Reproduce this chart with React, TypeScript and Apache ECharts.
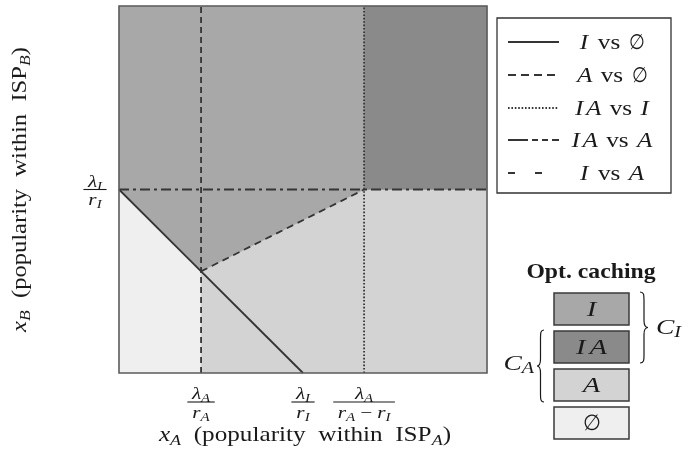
import React, { useEffect, useRef } from 'react';
import * as echarts from 'echarts';

// ---------------- data ----------------
// breakpoints on the x axis (fractions of full popularity range)
const xBreakNames = ['λA/rA', 'λI/rI', 'λA/(rA−rI)'];
const xBreaks = [0.223, 0.5, 0.666];
// breakpoints on the y axis
const yBreakNames = ['λI/rI'];
const yBreaks = [0.5];

// optimal caching regions
const regionNames = ['∅', 'A', 'I', 'IA'];
const regionPolygons: number[][][] = [
  [[0, 0], [0.223, 0], [0.223, 0.277], [0, 0.5]],
  [[0.223, 0], [1, 0], [1, 0.5], [0.666, 0.5], [0.223, 0.277]],
  [[0, 0.5], [0.223, 0.277], [0.666, 0.5], [0.666, 1], [0, 1]],
  [[0.666, 0.5], [1, 0.5], [1, 1], [0.666, 1]],
];

// boundaries between regions
const boundaryNames = ['I vs ∅', 'A vs ∅', 'IA vs I', 'IA vs A', 'I vs A'];
const boundaryLines: number[][][] = [
  [[0, 0.5], [0.5, 0]],
  [[0.223, 0], [0.223, 1]],
  [[0.666, 0], [0.666, 1]],
  [[0, 0.5], [1, 0.5]],
  [[0.223, 0.277], [0.666, 0.5]],
];

// ---------------- styles ----------------
const regionColors = ['#efefef', '#d3d3d3', '#a8a8a8', '#8a8a8a'];
const boundaryDash: any[] = ['solid', [6, 4], [1.6, 1.8], [10, 4, 3, 4], [7, 5]];
const legendDash: any[] = [null, [8, 5], [1.6, 1.8], [20, 4, 6, 4, 6, 4], [7, 20]];
const FONT = 'Liberation Serif';
const INK = '#1a1a1a';
const LINE = '#353535';

type Part = { t?: string; it?: boolean; sub?: boolean; b?: boolean; gap?: number; sx?: number };
const it = (t: string): Part => ({ t, it: true });
const rm = (t: string): Part => ({ t });
const sb = (t: string): Part => ({ t, it: true, sub: true });
const gp = (g: number): Part => ({ gap: g });
const es = (): Part => ({ t: '∅', sx: 0.72 });

const legendLabels: Part[][] = [
  [it('I'), gp(8), rm('vs'), gp(7), es()],
  [it('A'), gp(7), rm('vs'), gp(7), es()],
  [it('I'), gp(2), it('A'), gp(7), rm('vs'), gp(7), it('I')],
  [it('I'), gp(2), it('A'), gp(7), rm('vs'), gp(7), it('A')],
  [it('I'), gp(8), rm('vs'), gp(7), it('A')],
];
const boxOrder = [2, 3, 1, 0]; // I, IA, A, ∅ (indices into regionNames)
const boxLabels: Part[][] = [[it('I')], [it('I'), gp(3), it('A')], [it('A')], [es()]];
const xTickNum: Part[][] = [[it('λ'), sb('A')], [it('λ'), sb('I')], [it('λ'), sb('A')]];
const xTickDen: Part[][] = [
  [it('r'), sb('A')],
  [it('r'), sb('I')],
  [it('r'), sb('A'), gp(4), rm('−'), gp(4), it('r'), sb('I')],
];
const yTickNum: Part[][] = [[it('λ'), sb('I')]];
const yTickDen: Part[][] = [[it('r'), sb('I')]];
const xTitle: Part[] = [it('x'), sb('A'), rm('  (popularity  within  ISP'), sb('A'), rm(')')];
const yTitle: Part[] = [it('x'), sb('B'), rm('  (popularity  within  ISP'), sb('B'), rm(')')];

// ---------------- brace shapes ----------------
function bracePath(w: number, h: number, left: boolean) {
  const X = (x: number) => (left ? w - x : x);
  const m = w * 0.5;
  return `M${X(0)} 0 C${X(m)} 0 ${X(m)} 3 ${X(m)} 8 L${X(m)} ${h / 2 - 7} C${X(m)} ${h / 2 - 2} ${X(w * 0.7)} ${h / 2} ${X(w)} ${h / 2} C${X(w * 0.7)} ${h / 2} ${X(m)} ${h / 2 + 2} ${X(m)} ${h / 2 + 7} L${X(m)} ${h - 8} C${X(m)} ${h - 3} ${X(m)} ${h} ${X(0)} ${h}`;
}
echarts.graphic.registerShape('braceRight', (echarts.graphic as any).extendPath(bracePath(8, 71, false), {}));
echarts.graphic.registerShape('braceLeft', (echarts.graphic as any).extendPath(bracePath(7, 72, true), {}));

// ---------------- text helpers ----------------
let mctx: CanvasRenderingContext2D | null = null;
function measure(t: string, size: number, italic?: boolean, bold?: boolean) {
  if (!mctx) mctx = document.createElement('canvas').getContext('2d');
  mctx!.font = `${italic ? 'italic ' : ''}${bold ? 'bold ' : ''}${size}px "${FONT}"`;
  return mctx!.measureText(t).width;
}
function layout(parts: Part[], size: number, bold = false) {
  const subSize = Math.round(size * 0.72);
  let cx = 0;
  const children: any[] = [];
  for (const p of parts) {
    if (p.gap) { cx += p.gap; continue; }
    const s = p.sub ? subSize : size;
    const psx = p.sx || 1;
    const w = measure(p.t!, s, p.it, bold || p.b) * psx;
    children.push({
      type: 'text', x: cx, y: p.sub ? size * 0.27 : 0, scaleX: psx, silent: true,
      style: {
        text: p.t, fontSize: s, fontFamily: FONT, fontStyle: p.it ? 'italic' : 'normal',
        fontWeight: bold || p.b ? 'bold' : 'normal', fill: INK,
        align: 'left', verticalAlign: 'middle', textAlign: 'left', textVerticalAlign: 'middle',
      },
    });
    cx += w;
  }
  return { children, width: cx };
}
function textGroup(parts: Part[], x: number, y: number, size: number, sx: number, opts: any = {}) {
  const { children, width } = layout(parts, size, !!opts.bold);
  const off = opts.align === 'left' ? 0 : opts.align === 'right' ? -width : -width / 2;
  children.forEach((c) => (c.x += off));
  return { type: 'group', x, y, scaleX: sx, rotation: opts.rotation || 0, children, silent: true };
}
function fraction(num: Part[], den: Part[], cx: number, barY: number, size: number, sx: number) {
  const n = layout(num, size);
  const d = layout(den, size);
  const w = Math.max(n.width, d.width) * sx + 9;
  return {
    type: 'group', silent: true,
    children: [
      textGroup(num, cx, barY - size * 0.5, size, sx),
      { type: 'line', shape: { x1: cx - w / 2, y1: barY, x2: cx + w / 2, y2: barY }, style: { stroke: INK, lineWidth: 1.1 } },
      textGroup(den, cx, barY + size * 0.6, size, sx),
    ],
  };
}

export default function App() {
  const ref = useRef<HTMLDivElement>(null);
  useEffect(() => {
    const chart = echarts.init(ref.current!, null, { renderer: 'svg' });
    const series: any[] = [];
    series.push({
      type: 'custom', name: 'regions', coordinateSystem: 'cartesian2d', silent: true, clip: false, z: 1,
      data: regionNames.map((n, i) => {
        const poly = regionPolygons[i];
        const c = poly.reduce((a, p) => [a[0] + p[0] / poly.length, a[1] + p[1] / poly.length], [0, 0]);
        return { name: n, value: c };
      }),
      renderItem: (params: any, api: any) => {
        const i = params.dataIndex;
        return {
          type: 'polygon',
          shape: { points: regionPolygons[i].map((p) => api.coord(p)) },
          style: { fill: regionColors[i], stroke: regionColors[i], lineWidth: 0.5 },
        };
      },
    });
    const order = [4, 1, 2, 3, 0];
    order.forEach((i, k) => {
      series.push({
        type: 'line', name: boundaryNames[i], data: boundaryLines[i], symbol: 'none', silent: true,
        z: 3 + k, lineStyle: { color: LINE, width: 1.8, type: boundaryDash[i] },
      });
    });
    series.push({
      type: 'custom', name: 'frame', coordinateSystem: 'cartesian2d', silent: true, clip: false, z: 20,
      data: [{ value: [0.5, 0.5] }],
      renderItem: (params: any, api: any) => {
        const a = api.coord([0, 1]);
        const b = api.coord([1, 0]);
        return {
          type: 'rect', shape: { x: a[0], y: a[1], width: b[0] - a[0], height: b[1] - a[1] },
          style: { fill: 'none', stroke: '#5c5c5c', lineWidth: 1.6 },
        };
      },
    });

    const axisCommon = {
      type: 'value', min: 0, max: 1,
      axisLine: { show: false }, axisTick: { show: false }, axisLabel: { show: false }, splitLine: { show: false },
    };
    chart.setOption({
      animation: false,
      grid: { left: 119, top: 6, width: 368, height: 367 },
      xAxis: axisCommon,
      yAxis: axisCommon,
      series,
    });

    const px = (v: number[]) => chart.convertToPixel({ gridIndex: 0 }, v) as number[];
    const [x0, y0] = px([0, 0]);
    const [x1, y1] = px([1, 1]);
    const els: any[] = [];
    // x tick fractions
    xBreaks.forEach((v, i) => {
      const cx = px([v, 0])[0];
      els.push(fraction(xTickNum[i], xTickDen[i], cx, y0 + 29, 17, 1.25));
    });
    yBreaks.forEach((v, i) => {
      const cy = px([0, v])[1];
      els.push(fraction(yTickNum[i], yTickDen[i], x0 - 24, cy, 17, 1.25));
    });
    // axis titles
    els.push(textGroup(xTitle, (x0 + x1) / 2 + 2, y0 + 61, 21, 1.2));
    els.push(textGroup(yTitle, 19, (y0 + y1) / 2, 21, 1.17, { rotation: Math.PI / 2 }));

    // boundary legend
    els.push({ type: 'rect', shape: { x: 497, y: 18, width: 174, height: 175 }, style: { fill: '#fff', stroke: '#333', lineWidth: 1.3 } });
    const rowY = [42, 75, 108, 140, 173];
    boundaryNames.forEach((n, i) => {
      els.push({
        type: 'line', shape: { x1: 508, y1: rowY[i], x2: 559, y2: rowY[i] },
        style: { stroke: LINE, lineWidth: 1.8, lineDash: legendDash[i] },
      });
      els.push(textGroup(legendLabels[i], 612, rowY[i], 21, 1.2));
    });

    // optimal caching legend
    els.push(textGroup([{ t: 'Opt. caching', b: true }], 591, 271, 21, 1.13, { bold: true }));
    const boxTop = [293, 331, 369, 407];
    boxOrder.forEach((ri, k) => {
      els.push({
        type: 'rect', shape: { x: 554, y: boxTop[k], width: 75, height: 32 },
        style: { fill: regionColors[ri], stroke: '#3a3a3a', lineWidth: 1.5 },
      });
      els.push(textGroup(boxLabels[k], 591.5, boxTop[k] + 16, 22, 1.3));
    });
    els.push({ type: 'braceRight', x: 640, y: 292, style: { fill: 'none', stroke: INK, lineWidth: 1.2 } });
    els.push({ type: 'braceLeft', x: 537, y: 330, style: { fill: 'none', stroke: INK, lineWidth: 1.2 } });
    els.push(textGroup([it('C'), sb('I')], 656, 326, 22, 1.25, { align: 'left' }));
    els.push(textGroup([it('C'), sb('A')], 534, 362, 22, 1.25, { align: 'right' }));

    chart.setOption({ graphic: { elements: els } });
    return () => chart.dispose();
  }, []);
  return <div ref={ref} style={{ position: 'fixed', left: 0, top: 0, width: 688, height: 450 }} />;
}
